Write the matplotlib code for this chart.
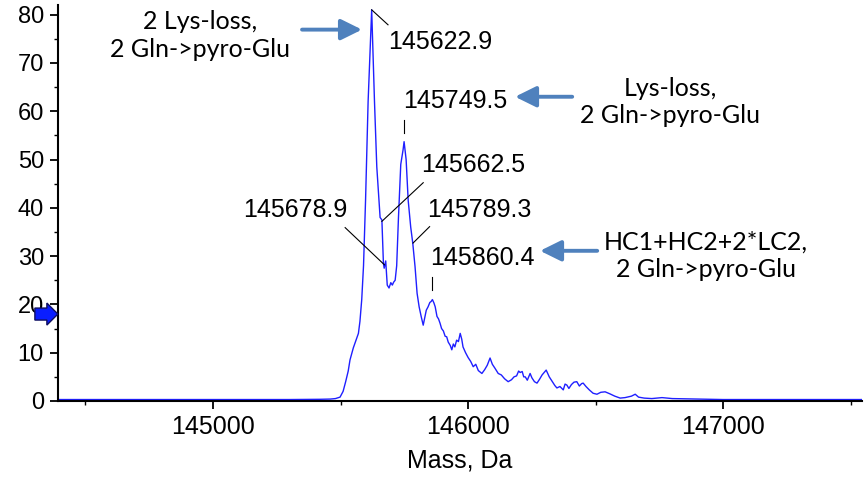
import matplotlib.pyplot as plt
import matplotlib.patches as mpatches
from matplotlib.ticker import MultipleLocator

# deconvoluted mass spectrum
mass = [144392, 144700, 145000, 145300, 145420, 145460, 145480, 145498, 145510,
        145520, 145530, 145537, 145550, 145560, 145570, 145576, 145583, 145590,
        145598, 145608, 145622, 145633, 145642, 145655, 145662, 145668, 145671,
        145677, 145683, 145690, 145697, 145703, 145708, 145714, 145720, 145727,
        145736, 145745, 145749, 145757, 145765, 145775, 145783, 145792, 145800,
        145808, 145816, 145824, 145830, 145836, 145843, 145850, 145855, 145860,
        145866, 145871, 145878, 145884, 145890, 145896, 145903, 145910, 145916,
        145922, 145930, 145936, 145942, 145948, 145955, 145962, 145969, 145975,
        145980, 145990, 146000, 146010, 146020, 146030, 146040, 146054, 146065,
        146075, 146086, 146095, 146105, 146118, 146130, 146143, 146157, 146170,
        146180, 146190, 146198, 146204, 146212, 146218, 146224, 146232, 146243,
        146250, 146260, 146270, 146280, 146290, 146306, 146318, 146330, 146340,
        146348, 146360, 146373, 146380, 146387, 146395, 146405, 146415, 146426,
        146436, 146445, 146451, 146462, 146475, 146490, 146505, 146520, 146537,
        146555, 146575, 146596, 146615, 146640, 146655, 146668, 146690, 146720,
        146760, 146800, 146900, 147000, 147300, 147545]
intensity = [0.3, 0.3, 0.3, 0.3, 0.35, 0.4, 0.5, 0.8, 2.0,
             4.0, 6.2, 8.5, 11.0, 12.5, 14.0, 16.5, 21.0, 28.0,
             41.6, 62.0, 81.0, 62.0, 48.5, 38.0, 37.5, 28.5, 27.5,
             29.0, 24.0, 23.4, 24.5, 24.0, 24.6, 25.0, 28.0, 38.0,
             49.0, 52.0, 53.7, 50.0, 41.6, 36.0, 32.7, 27.8, 22.3,
             19.5, 17.5, 15.7, 17.2, 18.8, 19.5, 20.4, 20.6, 21.0,
             20.3, 19.5, 17.5, 17.0, 16.1, 15.0, 14.5, 13.4, 13.3,
             12.2, 11.5, 10.6, 11.8, 11.2, 12.6, 12.3, 14.0, 12.8,
             11.2, 10.0, 9.0, 8.2, 7.1, 7.6, 6.3, 5.7, 6.5,
             7.4, 8.9, 7.6, 6.8, 5.7, 5.4, 4.6, 4.0, 4.4,
             5.0, 5.2, 6.2, 5.9, 6.1, 5.0, 5.0, 4.3, 5.7,
             4.8, 4.0, 3.7, 4.5, 5.4, 6.4, 5.0, 4.0, 3.2,
             2.7, 3.0, 2.3, 3.5, 3.3, 2.6, 3.4, 3.9, 4.0,
             3.1, 3.6, 3.7, 3.0, 2.3, 1.6, 1.4, 1.8, 1.9,
             1.5, 1.0, 0.6, 0.7, 1.0, 1.4, 0.8, 0.6, 0.5,
             0.7, 0.5, 0.4, 0.3, 0.3, 0.3]

peak_labels = ["145622.9", "145749.5", "145662.5", "145789.3", "145678.9", "145860.4"]
notes = ["2 Lys-loss,\n2 Gln->pyro-Glu",
         "Lys-loss,\n2 Gln->pyro-Glu",
         "HC1+HC2+2*LC2,\n2 Gln->pyro-Glu"]

num_font = "Liberation Sans"
note_font = "Lato"
arrow_col = "#4f81bd"

fig = plt.figure(figsize=(8.64, 4.8), dpi=100)
ax = fig.add_axes([0.067, 0.1646, 0.931, 0.825])

ax.plot(mass, intensity, color="#1f1fff", lw=1.0)

ax.set_xlim(144392, 147545)
ax.set_ylim(0, 82)
ax.xaxis.set_major_locator(MultipleLocator(1000))
ax.xaxis.set_minor_locator(MultipleLocator(500))
ax.yaxis.set_major_locator(MultipleLocator(10))
ax.yaxis.set_minor_locator(MultipleLocator(5))
for s in ["top", "right"]:
    ax.spines[s].set_visible(False)
for s in ["left", "bottom"]:
    ax.spines[s].set_linewidth(1.5)
ax.tick_params(which="major", length=6, width=1.3, pad=4)
ax.tick_params(which="minor", length=3, width=1.0)
for lab in ax.get_xticklabels():
    lab.set_fontfamily(num_font)
    lab.set_fontsize(18)
for lab in ax.get_yticklabels():
    lab.set_fontfamily(num_font)
    lab.set_fontsize(17)
ax.set_xlabel("Mass, Da", fontfamily=num_font, fontsize=18, labelpad=7)

# peak labels with leader lines
lbl = dict(fontfamily=num_font, fontsize=18, va="center")
ln = dict(color="black", lw=0.8)
ax.text(145686, 74.4, peak_labels[0], ha="left", **lbl)
ax.plot([145622, 145686], [81, 77.9], **ln)
ax.text(145745, 62.2, peak_labels[1], ha="left", **lbl)
ax.plot([145749, 145749], [58.2, 55.5], **ln)
ax.text(145816, 48.9, peak_labels[2], ha="left", **lbl)
ax.plot([145662, 145824], [37.2, 45.2], **ln)
ax.text(145839, 39.6, peak_labels[3], ha="left", **lbl)
ax.plot([145784, 145849], [32.7, 36.1], **ln)
ax.text(145525, 39.6, peak_labels[4], ha="right", **lbl)
ax.plot([145518, 145672], [35.9, 28.2], **ln)
ax.text(145851, 29.6, peak_labels[5], ha="left", **lbl)
ax.plot([145859, 145859], [25.7, 23.0], **ln)

# descriptive notes with block arrows
nt = dict(fontfamily=note_font, fontsize=18, ha="center", va="center", linespacing=1.25)
ax.text(144949, 75.7, notes[0], **nt)
ax.text(146792, 61.9, notes[1], **nt)
ax.text(146933, 30.1, notes[2], **nt)
arr = dict(arrowstyle="-|>,head_length=0.85,head_width=0.42", color=arrow_col,
           lw=2.8, mutation_scale=15, shrinkA=0, shrinkB=0)
ax.annotate("", xy=(145584, 76.9), xytext=(145349, 76.9), arrowprops=arr)
ax.annotate("", xy=(146184, 63.0), xytext=(146408, 63.0), arrowprops=arr)
ax.annotate("", xy=(146282, 31.1), xytext=(146506, 31.1), arrowprops=arr)

# small blue marker arrow on the y axis
x0, x1, x2 = -23 / 804, -11 / 804, 0.0
yc = 18 / 82
hs, hh = 6 / 396, 11 / 396
icon = mpatches.Polygon([(x0, yc - hs), (x1, yc - hs), (x1, yc - hh), (x2, yc),
                         (x1, yc + hh), (x1, yc + hs), (x0, yc + hs)],
                        closed=True, transform=ax.transAxes, clip_on=False,
                        facecolor="#0a1eff", edgecolor="#101060", lw=1.0, zorder=5)
ax.add_patch(icon)

fig.savefig("out.png", dpi=100)
